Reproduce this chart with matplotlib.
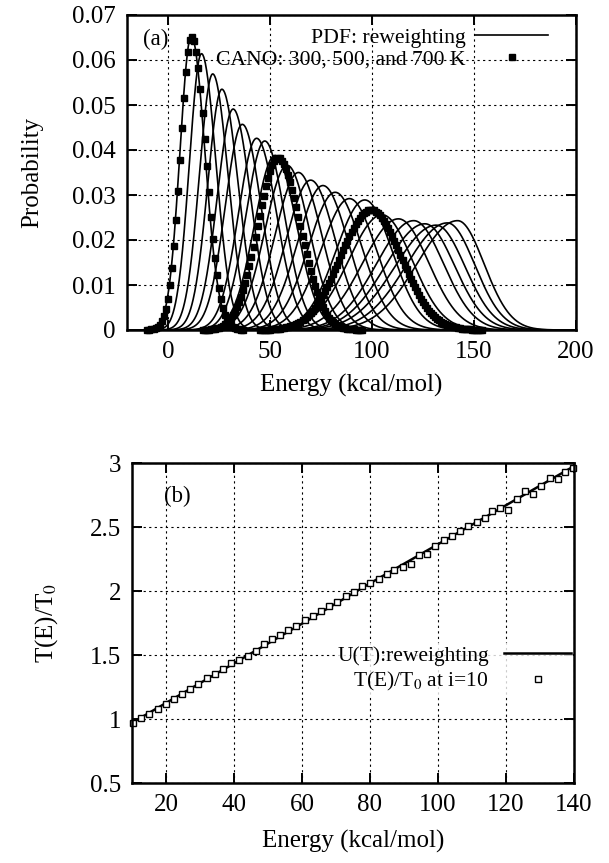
import matplotlib
matplotlib.use('agg')
import matplotlib.pyplot as plt
import numpy as np
from matplotlib.ticker import FuncFormatter

# (a) reweighted PDFs: peak energy, peak height, right/left width ratio
pdf_center = [11.5, 16.5, 22.0, 26.5, 32.0, 36.5, 43.5, 47.5, 52.5, 58.5, 64.0, 70.0,
              76.0, 82.0, 89.0, 96.5, 105.0, 113.0, 120.5, 126.0, 131.5, 137.0, 142.0]
pdf_height = [0.0653, 0.0614, 0.0569, 0.0535, 0.0491, 0.0457, 0.0426, 0.0420, 0.0388,
              0.0366, 0.0350, 0.0333, 0.0321, 0.0306, 0.0292, 0.0289, 0.0256, 0.0247,
              0.0243, 0.0236, 0.0233, 0.0238, 0.0243]
pdf_skew = [1.2, 1.2, 1.15, 1.15, 1.1, 1.1, 1.1, 1.05, 1.05, 1.0, 1.0, 1.0,
            1.0, 1.0, 0.95, 0.95, 0.9, 0.85, 0.8, 0.75, 0.7, 0.67, 0.65]

# canonical runs at 300, 500, 700 K
cano_center = [11.8, 54.0, 99.5]
cano_height = [0.0652, 0.0383, 0.0267]
cano_skew = [1.2, 1.1, 1.0]

# (b) temperature ratio
u_energy = [10, 20, 40, 60, 80, 100, 120, 140]
u_ratio = [0.97, 1.125, 1.435, 1.745, 2.06, 2.365, 2.67, 2.975]

t_energy = [10.3, 12.6, 15.1, 17.5, 20.0, 22.3, 24.8, 27.1, 29.5, 32.0, 34.3, 36.9, 39.2,
            41.5, 44.0, 46.5, 48.8, 51.1, 53.5, 56.0, 58.3, 60.8, 63.1, 65.5, 68.0, 70.4,
            72.9, 75.2, 77.7, 80.0, 82.5, 84.9, 87.1, 89.7, 92.0, 94.3, 96.8, 99.1, 101.7,
            104.0, 106.5, 108.8, 111.4, 113.7, 116.0, 118.3, 120.6, 123.2, 125.5, 128.0,
            130.3, 132.8, 135.2, 137.4, 139.7]
t_ratio = [0.969, 1.008, 1.042, 1.081, 1.120, 1.159, 1.198, 1.234, 1.276, 1.320, 1.354,
           1.391, 1.438, 1.464, 1.495, 1.529, 1.586, 1.628, 1.659, 1.698, 1.729, 1.771,
           1.807, 1.841, 1.880, 1.914, 1.958, 1.990, 2.036, 2.063, 2.096, 2.133, 2.167,
           2.190, 2.214, 2.284, 2.292, 2.349, 2.396, 2.432, 2.466, 2.510, 2.536, 2.570,
           2.622, 2.648, 2.635, 2.719, 2.779, 2.758, 2.823, 2.883, 2.875, 2.927, 2.961]


def split_pdf(e, c, h, r):
    s = 2.0 / (np.sqrt(2 * np.pi) * h)
    sl = s / (1 + r)
    sr = r * s / (1 + r)
    sig = np.where(e < c, sl, sr)
    return h * np.exp(-0.5 * ((e - c) / sig) ** 2)


plt.rcParams['font.family'] = ['Liberation Serif', 'DejaVu Serif']
plt.rcParams['font.size'] = 18
plt.rcParams['mathtext.fontset'] = 'stix'

fig = plt.figure(figsize=(6.09, 8.63), dpi=100)
ax1 = fig.add_axes([127 / 609, 1 - 330 / 863, 449 / 609, 315 / 863])
ax2 = fig.add_axes([132 / 609, 1 - 783 / 863, 442 / 609, 320 / 863])


def style(ax):
    for s in ax.spines.values():
        s.set_linewidth(1.8)
        s.set_zorder(3)
    ax.tick_params(direction='in', top=True, right=True, length=7, width=1.4, pad=8)
    ax.grid(True, color='black', linestyle=(0, (2, 3)), linewidth=0.8)
    ax.yaxis.set_major_formatter(FuncFormatter(lambda v, p: '%g' % v))


e = np.linspace(-20, 200, 1101)
for i in range(len(pdf_center)):
    lab = 'PDF: reweighting' if i == 0 else None
    ax1.plot(e, split_pdf(e, pdf_center[i], pdf_height[i], pdf_skew[i]),
             color='black', lw=1.2, label=lab)
ei = np.arange(-20, 201, 1.0)
for i in range(3):
    p = split_pdf(ei, cano_center[i], cano_height[i], cano_skew[i])
    m = p > 3e-5
    lab = 'CANO: 300, 500, and 700 K' if i == 0 else None
    ax1.plot(ei[m], p[m], 's', color='black', ms=4.2, label=lab, clip_on=False)

ax1.set_xlim(-20, 200)
ax1.set_ylim(0, 0.07)
ax1.set_xticks([0, 50, 100, 150, 200])
ax1.set_yticks(np.arange(0, 0.071, 0.01))
style(ax1)
ax1.set_xlabel('Energy (kcal/mol)', labelpad=8)
ax1.set_ylabel('Probability', labelpad=21)
ax1.text(-12, 0.0645, '(a)', ha='left', va='center', fontsize=16.5)
ax1.legend(loc='upper right', bbox_to_anchor=(0.9376, 0.96), frameon=False,
           fontsize=15.6, markerfirst=False, handlelength=3.35, handletextpad=0.45,
           labelspacing=0.07, borderpad=0, borderaxespad=0)

ax2.plot(u_energy, u_ratio, color='black', lw=1.8, label='U(T):reweighting')
ax2.plot(t_energy, t_ratio, 's', color='black', mfc='white', ms=5, mew=1.0,
         label='T(E)/T$_0$ at i=10', clip_on=False)
ax2.set_xlim(10, 140)
ax2.set_ylim(0.5, 3)
ax2.set_xticks([20, 40, 60, 80, 100, 120, 140])
ax2.set_yticks([0.5, 1, 1.5, 2, 2.5, 3])
style(ax2)
ax2.set_xlabel('Energy (kcal/mol)', labelpad=10)
ax2.set_ylabel('T(E)/T$_0$', labelpad=21)
ax2.text(19.5, 2.74, '(b)', ha='left', va='center', fontsize=16.5)
leg = ax2.legend(loc='upper right', bbox_to_anchor=(0.998, 0.436), frameon=True,
                 fontsize=15.5, markerfirst=False, handlelength=3.1, handletextpad=0.7,
                 labelspacing=0.2, borderpad=0.1, borderaxespad=0, fancybox=False)
leg.get_frame().set_edgecolor('none')
leg.get_frame().set_facecolor('white')
leg.set_zorder(2.5)

fig.savefig('out.png', dpi=100)
